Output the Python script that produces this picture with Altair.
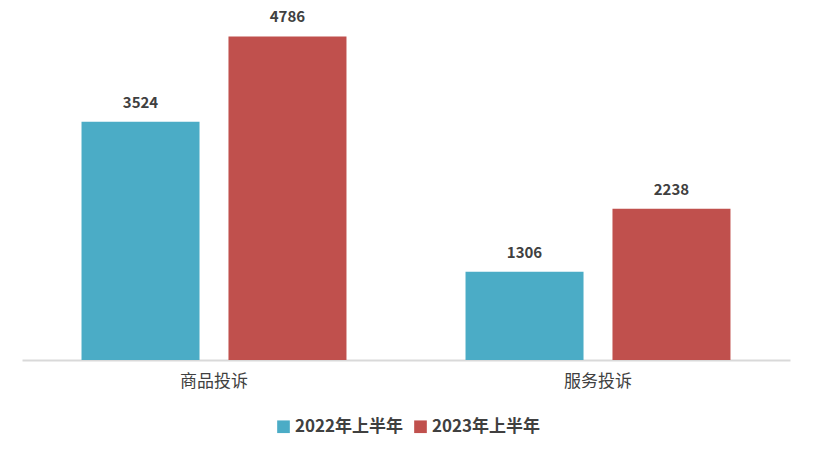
import altair as alt
import pandas as pd

categories = ["商品投诉", "服务投诉"]
series = ["2022年上半年", "2023年上半年"]
values_2022 = [3524, 1306]
values_2023 = [4786, 2238]
colors = ["#4BACC6", "#C0504D"]

rows = []
for i, c in enumerate(categories):
    rows.append({"cat": c, "series": series[0], "value": values_2022[i]})
    rows.append({"cat": c, "series": series[1], "value": values_2023[i]})
df = pd.DataFrame(rows)

font = "Noto Sans CJK SC"

x = alt.X("cat:N", sort=categories, title=None,
          scale=alt.Scale(paddingInner=0.31, paddingOuter=0.155),
          axis=alt.Axis(labelAngle=0, labelFont=font, labelFontSize=17,
                        labelColor="#404040", labelPadding=13, ticks=False,
                        domainColor="#D9D9D9", domainWidth=2, grid=False))
xo = alt.XOffset("series:N", sort=series,
                 scale=alt.Scale(paddingInner=0.197, paddingOuter=0))
y = alt.Y("value:Q", scale=alt.Scale(domain=[0, 5207], nice=False), axis=None)

base = alt.Chart(df).encode(x=x, xOffset=xo, y=y)

bars = base.mark_bar().encode(
    color=alt.Color("series:N", sort=series,
                    scale=alt.Scale(domain=series, range=colors),
                    legend=alt.Legend(title=None, orient="none", direction="horizontal",
                                      legendX=253, legendY=410,
                                      symbolType="square", symbolSize=160,
                                      symbolStrokeWidth=0,
                                      labelFont=font, labelFontSize=17,
                                      labelFontWeight="bold", labelColor="#404040",
                                      columnPadding=8, labelOffset=3))
)

labels = base.mark_text(baseline="bottom", dy=-11, font=font, fontSize=15,
                        fontWeight="bold", color="#404040").encode(
    text=alt.Text("value:Q", format="d")
)

chart = (bars + labels).properties(
    width=768, height=352,
    autosize=alt.AutoSizeParams(type="none"),
    padding={"left": 14, "top": 0, "right": 16, "bottom": 86},
).configure_view(stroke=None)

chart.save("out.html", embed_options={"renderer": "svg", "actions": False})
